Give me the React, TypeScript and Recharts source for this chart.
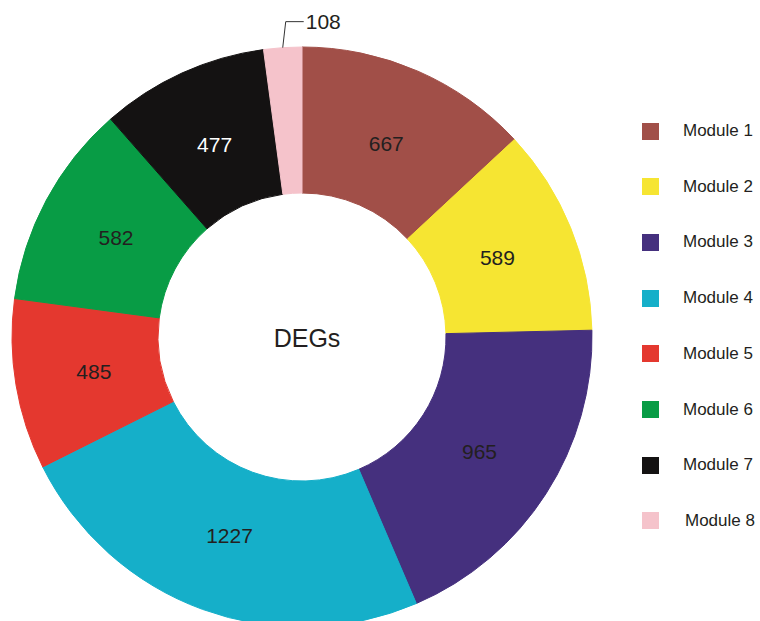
import React from 'react';
import { PieChart, Pie, Cell, Legend } from 'recharts';

const modules = ['Module 1', 'Module 2', 'Module 3', 'Module 4', 'Module 5', 'Module 6', 'Module 7', 'Module 8'];
const degCounts = [667, 589, 965, 1227, 485, 582, 477, 108];
const colors = ['#A14F48', '#F6E532', '#45307E', '#15AFC9', '#E4382F', '#089C45', '#141212', '#F5C3CB'];
const labelColors = ['#231f20', '#231f20', '#231f20', '#231f20', '#231f20', '#231f20', '#ffffff', '#231f20'];
const centerTitle = 'DEGs';

const data = modules.map((name, i) => ({ name, value: degCounts[i] }));

const RAD = Math.PI / 180;
const FONT = '"Liberation Sans", Arial, sans-serif';

const renderLabel = (props: any) => {
  const { cx, cy, midAngle, outerRadius, index, value } = props;
  if (index === data.length - 1) {
    // small slice: label outside with leader line
    const x0 = cx + outerRadius * Math.cos(-midAngle * RAD);
    const y0 = cy + outerRadius * Math.sin(-midAngle * RAD);
    const x1 = x0 + 3;
    const y1 = y0 - 26;
    const x2 = x1 + 18;
    return (
      <g>
        <polyline points={`${x0},${y0} ${x1},${y1} ${x2},${y1}`} fill="none" stroke="#333" strokeWidth={1} />
        <text x={x2 + 2} y={y1} fill="#231f20" fontSize={21} fontFamily={FONT} dominantBaseline="central">
          {value}
        </text>
      </g>
    );
  }
  const r = 211;
  const x = cx + r * Math.cos(-midAngle * RAD);
  const y = cy + r * Math.sin(-midAngle * RAD);
  return (
    <g>
      {index === 0 && (
        <text x={cx + 5} y={cy + 1} fill="#231f20" fontSize={25} fontFamily={FONT} textAnchor="middle" dominantBaseline="central">
          {centerTitle}
        </text>
      )}
      <text x={x} y={y} fill={labelColors[index]} fontSize={21} fontFamily={FONT} textAnchor="middle" dominantBaseline="central">
        {value}
      </text>
    </g>
  );
};

const renderLegend = (props: any) => {
  const payload = props.payload || [];
  return (
    <div style={{ position: 'relative', width: 760, height: 621 }}>
      {payload.map((entry: any, i: number) => {
        const cy = 131 + i * 55.7;
        return (
          <div key={entry.value}>
            <div style={{ position: 'absolute', left: 642, top: cy - 8.5, width: 17, height: 17, background: entry.color }} />
            <div
              style={{
                position: 'absolute',
                left: i === 7 ? 685 : 683,
                top: cy - 11,
                fontSize: 17,
                lineHeight: '22px',
                fontFamily: FONT,
                color: '#231f20',
                whiteSpace: 'nowrap',
              }}
            >
              {entry.value}
            </div>
          </div>
        );
      })}
    </div>
  );
};

export default function App() {
  return (
    <div style={{ position: 'absolute', left: 0, top: 0, width: 760, height: 621, overflow: 'hidden', background: '#fff' }}>
      <PieChart width={760} height={621} margin={{ top: 0, right: 0, bottom: 0, left: 0 }}>
        <Pie
          data={data}
          dataKey="value"
          nameKey="name"
          cx={302}
          cy={337}
          innerRadius={144}
          outerRadius={290}
          startAngle={90}
          endAngle={-270}
          label={renderLabel}
          labelLine={false}
          isAnimationActive={false}
        >
          {data.map((d, i) => (
            <Cell key={d.name} fill={colors[i]} stroke={colors[i]} strokeWidth={1} />
          ))}
        </Pie>
        <Legend
          layout="vertical"
          align="right"
          verticalAlign="top"
          content={renderLegend}
          wrapperStyle={{ left: 0, top: 0, width: 760, height: 621, pointerEvents: 'none' }}
        />
      </PieChart>
    </div>
  );
}
